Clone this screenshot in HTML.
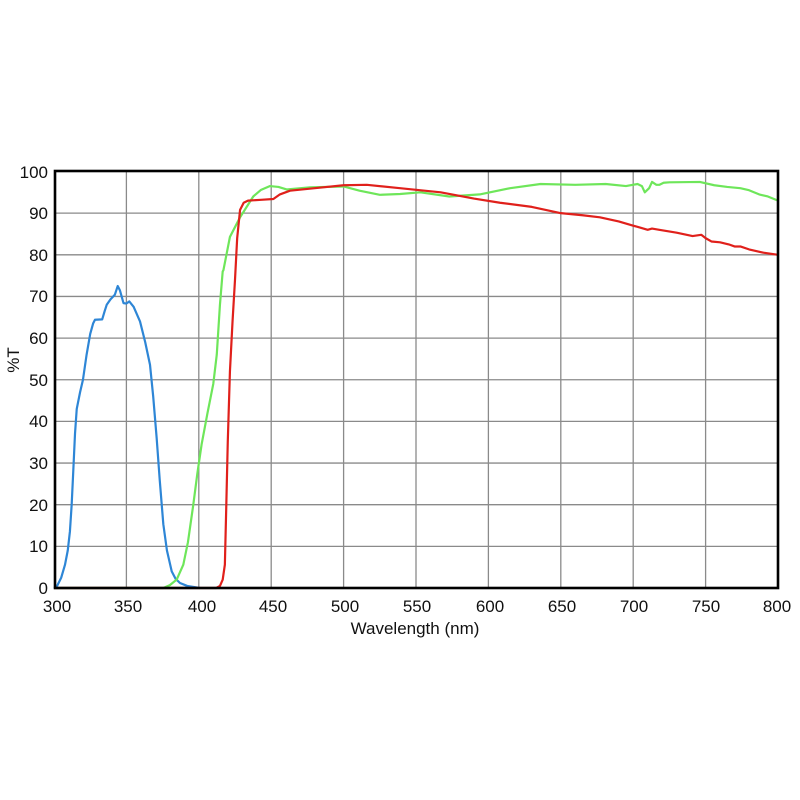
<!DOCTYPE html>
<html><head><style>body{margin:0;background:#fff}svg{display:block}</style></head><body>
<svg width="800" height="800" xmlns="http://www.w3.org/2000/svg" font-family="Liberation Sans, sans-serif">
<rect width="800" height="800" fill="#fff"/>
<g stroke="#8a8a8a" stroke-width="1.3">
<line x1="54" x2="778" y1="546.35" y2="546.35"/><line x1="54" x2="778" y1="504.7" y2="504.7"/><line x1="54" x2="778" y1="463.05" y2="463.05"/><line x1="54" x2="778" y1="421.4" y2="421.4"/><line x1="54" x2="778" y1="379.75" y2="379.75"/><line x1="54" x2="778" y1="338.1" y2="338.1"/><line x1="54" x2="778" y1="296.45" y2="296.45"/><line x1="54" x2="778" y1="254.8" y2="254.8"/><line x1="54" x2="778" y1="213.15" y2="213.15"/>
<line y1="171" y2="588" x1="126.4" x2="126.4"/><line y1="171" y2="588" x1="198.8" x2="198.8"/><line y1="171" y2="588" x1="271.2" x2="271.2"/><line y1="171" y2="588" x1="343.6" x2="343.6"/><line y1="171" y2="588" x1="416" x2="416"/><line y1="171" y2="588" x1="488.4" x2="488.4"/><line y1="171" y2="588" x1="560.8" x2="560.8"/><line y1="171" y2="588" x1="633.2" x2="633.2"/><line y1="171" y2="588" x1="705.6" x2="705.6"/>
</g>
<g transform="translate(54,588) scale(1.448,-4.165)" fill="none" stroke-width="2.2" stroke-linejoin="round">
<path vector-effect="non-scaling-stroke" stroke="#2e86d6" d="M0,0 L2,0.4 L5,2.5 L7.6,5.6 L9.5,9 L11,13.6 L12.2,20 L13.3,28 L14.5,37 L15.7,43 L18,47 L20,50 L22.5,56 L25,61 L27,63.5 L28.3,64.4 L33.3,64.5 L35,66.5 L36.4,68 L39,69.3 L42,70.4 L44,72.5 L45.5,71.5 L48,68.4 L50,68.3 L52,68.8 L55,67.5 L59.4,64 L63,59 L66.3,53.6 L68.5,46 L70.9,36 L73,26 L75.5,15.3 L78,9 L81.3,4 L84,2.2 L87,1.2 L92,0.5 L100.8,0"/>
<path vector-effect="non-scaling-stroke" stroke="#6ee65a" d="M0,0 L75.5,0 L80,0.7 L84.7,2 L89.3,5.6 L92.5,11 L96.2,20 L99,27.5 L102,34.6 L106,42 L110,49 L112.4,56 L114.6,68 L116.5,76 L117,76.3 L121.5,84.3 L128.5,89 L137.6,94 L143,95.6 L149,96.5 L155,96.3 L160.7,95.7 L176.8,96.2 L200,96.4 L211,95.4 L225,94.4 L239,94.6 L253,95 L273,94 L294,94.5 L315,96 L336,97 L360,96.8 L381,97 L395,96.5 L403,97 L406,96.5 L408,95 L411,96 L413,97.5 L416,96.8 L418,96.8 L421,97.3 L425,97.4 L446,97.5 L456,96.7 L465,96.3 L474,96 L480,95.5 L487,94.5 L493,94 L500,93"/>
<path vector-effect="non-scaling-stroke" stroke="#e0201b" d="M0,0 L112,0 L114.6,0.5 L116.5,2 L118,5.6 L119,20 L120,35 L121.5,52 L123.3,64 L125,74 L126.5,84 L128.5,90.8 L131,92.5 L134,93 L143,93.2 L151.5,93.4 L156,94.5 L163,95.4 L180,96 L200,96.7 L216,96.8 L239,96 L267,95 L290,93.5 L308,92.5 L330,91.5 L350,90 L365,89.5 L377,89 L390,88 L400,87 L405,86.5 L410,86 L413,86.3 L418,86 L430,85.3 L441,84.5 L447,84.8 L450,84 L454,83.2 L460,83 L466,82.5 L470,82 L474,82 L480,81.3 L490,80.5 L500,80"/>
</g>
<rect x="55" y="171" width="723" height="417" fill="none" stroke="#000" stroke-width="2.6"/>
<g font-size="17" fill="#111" text-anchor="end">
<text x="48" y="594">0</text><text x="48" y="552">10</text><text x="48" y="511">20</text><text x="48" y="469">30</text><text x="48" y="427">40</text><text x="48" y="386">50</text><text x="48" y="344">60</text><text x="48" y="302">70</text><text x="48" y="261">80</text><text x="48" y="219">90</text><text x="48" y="178">100</text>
</g>
<g font-size="17" fill="#111" text-anchor="middle">
<text x="57" y="612">300</text><text x="128" y="612">350</text><text x="202" y="612">400</text><text x="273" y="612">450</text><text x="345" y="612">500</text><text x="417" y="612">550</text><text x="490" y="612">600</text><text x="562" y="612">650</text><text x="634" y="612">700</text><text x="706" y="612">750</text><text x="777" y="612">800</text>
<text x="415" y="634">Wavelength (nm)</text>
<text transform="translate(19,360) rotate(-90)">%T</text>
</g>
</svg>
</body></html>
